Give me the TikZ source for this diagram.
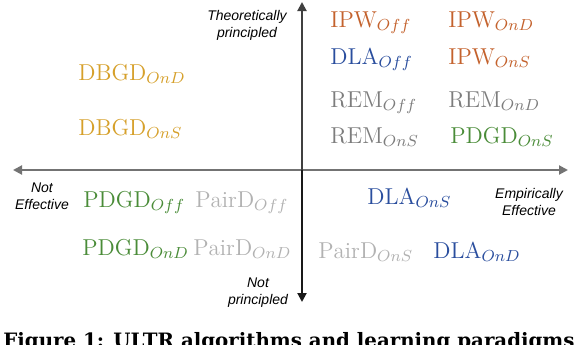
\documentclass[tikz,border=0pt]{standalone}
\usepackage{fontspec}
\usetikzlibrary{arrows.meta}
\newfontfamily\axfont{Liberation Sans}
\newfontfamily\capfont{DejaVu Serif}
\definecolor{ipwc}{RGB}{196,98,45}
\definecolor{dlac}{RGB}{42,78,158}
\definecolor{dbgdc}{RGB}{214,160,42}
\definecolor{remc}{RGB}{125,125,125}
\definecolor{pdgdc}{RGB}{74,140,56}
\definecolor{pairc}{RGB}{178,178,178}
\begin{document}
\begin{tikzpicture}[x=0.5pt,y=-0.5pt,
  alg/.style={anchor=base west,inner sep=0pt,font=\fontsize{11.5}{14}\selectfont},
  axlab/.style={align=center,inner sep=0pt,font=\axfont\itshape\fontsize{7}{8.6}\selectfont},
  axline/.style={line width=1pt,-{Triangle[length=4.5pt,width=4.5pt]}},
]
\useasboundingbox (0,0) rectangle (574,344);
\clip (0,0) rectangle (574,344);
\fill[white] (0,0) rectangle (574,344);
\coordinate (o) at (302,170);
\coordinate (left) at (13,170);
\coordinate (right) at (568,170);
\coordinate (top) at (302,2);
\coordinate (bot) at (302,302);
\draw[axline,draw=black!55] (o) -- (left);
\draw[axline,draw=black!55] (o) -- (right);
\draw[axline,draw=black!75] (o) -- (top);
\draw[axline,draw=black!90] (o) -- (bot);
\node[axlab] (theo) at (247,25) {Theoretically\\principled};
\node[axlab] (noteff) at (42,196) {Not\\Effective};
\node[axlab] (emp) at (529,202) {Empirically\\Effective};
\node[axlab] (notpr) at (258,293) {Not\\principled};
% upper right
\node[alg,text=ipwc] (ipwoff) at (330,27) {$\mathrm{IPW}_{Off}$};
\node[alg,text=ipwc] (ipwond) at (448,27) {$\mathrm{IPW}_{OnD}$};
\node[alg,text=dlac] (dlaoff) at (330,64) {$\mathrm{DLA}_{Off}$};
\node[alg,text=ipwc] (ipwons) at (448,64) {$\mathrm{IPW}_{OnS}$};
\node[alg,text=remc] (remoff) at (330,107) {$\mathrm{REM}_{Off}$};
\node[alg,text=remc] (remond) at (448,107) {$\mathrm{REM}_{OnD}$};
\node[alg,text=remc] (remons) at (330,143) {$\mathrm{REM}_{OnS}$};
\node[alg,text=pdgdc] (pdgdons) at (450,143) {$\mathrm{PDGD}_{OnS}$};
% upper left
\node[alg,text=dbgdc] (dbgdond) at (78,80) {$\mathrm{DBGD}_{OnD}$};
\node[alg,text=dbgdc] (dbgdons) at (78,135) {$\mathrm{DBGD}_{OnS}$};
% lower left
\node[alg,text=pdgdc] (pdgdoff) at (83,207) {$\mathrm{PDGD}_{Off}$};
\node[alg,text=pairc] (pairoff) at (195,207) {$\mathrm{PairD}_{Off}$};
\node[alg,text=pdgdc] (pdgdond) at (82,255) {$\mathrm{PDGD}_{OnD}$};
\node[alg,text=pairc] (pairond) at (193,255) {$\mathrm{PairD}_{OnD}$};
% lower right
\node[alg,text=dlac] (dlaons) at (367,204) {$\mathrm{DLA}_{OnS}$};
\node[alg,text=pairc] (pairons) at (318,258) {$\mathrm{PairD}_{OnS}$};
\node[alg,text=dlac] (dlaond) at (433,258) {$\mathrm{DLA}_{OnD}$};
% caption (cut off by the frame, as in the reference)
\node[anchor=base west,inner sep=0pt,font=\capfont\bfseries\fontsize{9.9}{11}\selectfont] (cap) at (3,347) {Figure 1: ULTR algorithms and learning paradigms};
\end{tikzpicture}
\end{document}
